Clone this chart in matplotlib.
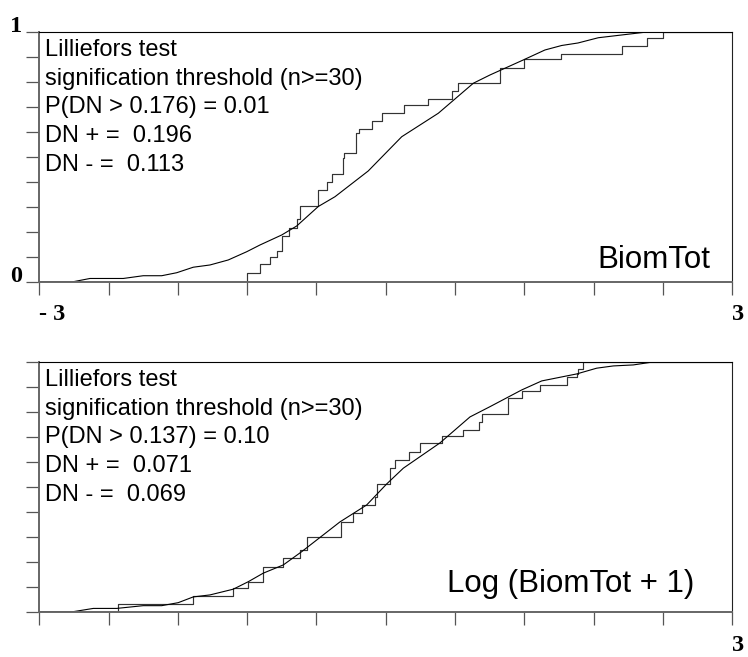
import matplotlib
matplotlib.use("Agg")
import matplotlib.pyplot as plt

# standardized axis, 11 ticks from -3 to 3, only the ends are labelled
x_ticks = [-3.0, -2.4, -1.8, -1.2, -0.6, 0.0, 0.6, 1.2, 1.8, 2.4, 3.0]
top_x_labels = ['- 3', '', '', '', '', '', '', '', '', '', '3']
bot_x_labels = ['', '', '', '', '', '', '', '', '', '', '3']
y_ticks = [0.0, 0.1, 0.2, 0.3, 0.4, 0.5, 0.6, 0.7, 0.8, 0.9, 1.0]
top_y_labels = ['0', '', '', '', '', '', '', '', '', '', '1']
bot_y_labels = ['', '', '', '', '', '', '', '', '', '', '']

# BiomTot: empirical cdf (jump positions and levels)
top_steps_x = [-1.204, -1.089, -1.003, -0.945, -0.901, -0.835, -0.766,
               -0.743, -0.584, -0.512, -0.463, -0.373, -0.359, -0.261,
               -0.232, -0.122, -0.030, 0.158, 0.368, 0.576, 0.622, 0.989,
               1.199, 1.521, 2.049, 2.259, 2.397]
top_steps_y = [0.034, 0.071, 0.100, 0.123, 0.184, 0.214, 0.250, 0.303,
               0.367, 0.400, 0.431, 0.494, 0.516, 0.594, 0.611, 0.644,
               0.674, 0.707, 0.730, 0.763, 0.794, 0.856, 0.890, 0.910,
               0.942, 0.974, 1.000]
# BiomTot: theoretical normal cdf
top_curve_x = [-3.0, -2.706, -2.561, -2.273, -2.100, -1.940, -1.810, -1.667,
               -1.522, -1.364, -1.204, -1.089, -0.901, -0.771, -0.584,
               -0.440, -0.152, 0.138, 0.455, 0.758, 0.902, 1.190, 1.378,
               1.523, 1.664, 1.840, 2.042, 2.244, 2.400, 3.0]
top_curve_y = [0.0, 0.0, 0.013, 0.013, 0.024, 0.024, 0.036, 0.058, 0.067,
               0.087, 0.120, 0.147, 0.187, 0.223, 0.301, 0.340, 0.443, 0.580,
               0.674, 0.794, 0.827, 0.887, 0.927, 0.945, 0.955, 0.976, 0.987,
               0.998, 1.0, 1.0]
top_text = ['Lilliefors test', 'signification threshold (n>=30)',
            'P(DN > 0.176) = 0.01', 'DN + =  0.196', 'DN - =  0.113']

# Log (BiomTot + 1)
bot_steps_x = [-2.316, -1.667, -1.320, -1.190, -1.061, -0.887, -0.743,
               -0.680, -0.392, -0.281, -0.209, -0.094, -0.076, 0.036, 0.084,
               0.203, 0.296, 0.484, 0.666, 0.807, 0.830, 1.061, 1.177,
               1.335, 1.566, 1.653, 1.661, 1.707]
bot_steps_y = [0.031, 0.063, 0.095, 0.119, 0.180, 0.214, 0.247, 0.300,
               0.360, 0.394, 0.427, 0.460, 0.511, 0.574, 0.607, 0.640,
               0.674, 0.704, 0.725, 0.760, 0.790, 0.854, 0.884, 0.907,
               0.938, 0.951, 0.970, 1.0]
bot_curve_x = [-3.0, -2.706, -2.532, -2.330, -2.100, -1.940, -1.797, -1.667,
               -1.522, -1.320, -1.190, -1.061, -0.887, -0.728, -0.561,
               -0.397, -0.165, 0.008, 0.152, 0.469, 0.729, 0.902, 1.177,
               1.350, 1.653, 1.826, 1.970, 2.143, 2.287, 2.400, 2.720, 3.0]
bot_curve_y = [0.0, 0.0, 0.013, 0.013, 0.024, 0.024, 0.036, 0.059, 0.067,
               0.090, 0.120, 0.154, 0.187, 0.240, 0.300, 0.359, 0.427, 0.511,
               0.574, 0.675, 0.779, 0.820, 0.887, 0.923, 0.951, 0.974, 0.983,
               0.987, 0.997, 0.999, 1.0, 1.0]
bot_text = ['Lilliefors test', 'signification threshold (n>=30)',
            'P(DN > 0.137) = 0.10', 'DN + =  0.071', 'DN - =  0.069']

SANS = 'Liberation Sans'
SERIF = 'Liberation Serif'


def draw_panel(ax, steps_x, steps_y, curve_x, curve_y, lines, name,
               name_pos, x_labels, y_labels, xpad):
    """Empirical cdf against the normal cdf, old Lilliefors plot style."""
    # step function drawn from -3 up to the last jump, then flat to 3
    sx = [-3.0] + steps_x + [3.0]
    sy = [0.0] + steps_y + [steps_y[-1]]
    ax.step(sx, sy, where='post', color='#333333', lw=0.85)
    ax.plot(curve_x, curve_y, color='black', lw=0.8)

    ax.set_xlim(-3, 3)
    ax.set_ylim(0, 1)

    for side in ('left', 'bottom'):
        ax.spines[side].set_color('#666666')
        ax.spines[side].set_linewidth(1.4)
    ax.spines['top'].set_linewidth(0.8)
    ax.spines['right'].set_linewidth(0.8)
    ax.spines['right'].set_color('#222222')

    ax.set_xticks(x_ticks, x_labels, fontfamily=SERIF, fontsize=17.5,
                  fontweight='bold')
    ax.set_yticks(y_ticks, y_labels, fontfamily=SERIF, fontsize=17.5,
                  fontweight='bold')
    ax.tick_params(direction='out', length=9.5, width=0.9, color='#555555')
    ax.tick_params(axis='x', pad=xpad)
    ax.tick_params(axis='y', pad=3)
    for lbl in ax.get_xticklabels():
        lbl.set_ha('left')
    for lbl in ax.get_yticklabels():
        lbl.set_va('baseline')

    # statistics block, one line every ~28.7 px
    for i, line in enumerate(lines):
        ax.text(0.0085, 0.903 - i * 0.1148, line, transform=ax.transAxes,
                fontfamily=SANS, fontsize=17, va='baseline', ha='left')

    ax.text(name_pos[0], name_pos[1], name, transform=ax.transAxes,
            fontfamily=SANS, fontsize=22.5, va='baseline', ha='right')


def main():
    fig = plt.figure(figsize=(7.48, 6.57), dpi=100)
    ax_top = fig.add_axes([0.0525, 0.5712, 0.9265, 0.3805])
    ax_bot = fig.add_axes([0.0525, 0.0690, 0.9265, 0.3805])

    draw_panel(ax_top, top_steps_x, top_steps_y, top_curve_x, top_curve_y,
               top_text, 'BiomTot', (0.9678, 0.054),
               top_x_labels, top_y_labels, xpad=6.5)
    draw_panel(ax_bot, bot_steps_x, bot_steps_y, bot_curve_x, bot_curve_y,
               bot_text, 'Log (BiomTot + 1)', (0.946, 0.078),
               bot_x_labels, bot_y_labels, xpad=7.0)

    fig.savefig('out.png', dpi=100)


if __name__ == "__main__":
    main()
